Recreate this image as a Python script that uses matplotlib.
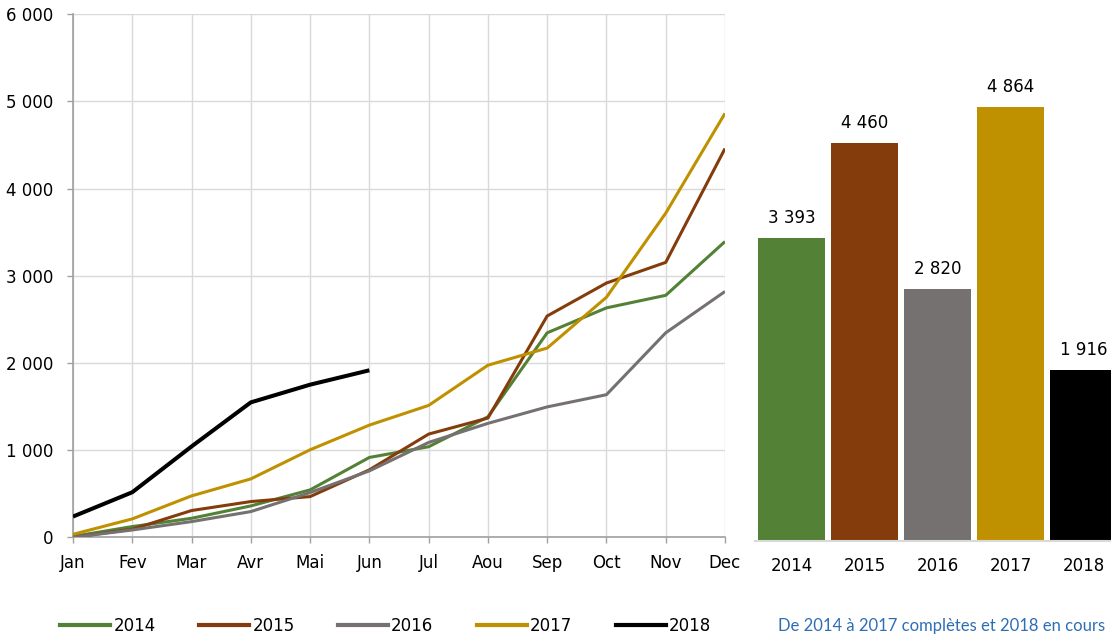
import matplotlib
matplotlib.use("Agg")
import matplotlib.pyplot as plt
from matplotlib.lines import Line2D

months = ["Jan", "Fev", "Mar", "Avr", "Mai", "Jun", "Jul", "Aou", "Sep", "Oct", "Nov", "Dec"]
years = ["2014", "2015", "2016", "2017", "2018"]
s2014 = [10, 123, 218, 360, 544, 916, 1039, 1382, 2346, 2632, 2776, 3393]
s2015 = [0, 92, 307, 410, 467, 774, 1184, 1368, 2539, 2917, 3154, 4460]
s2016 = [0, 84, 180, 295, 513, 762, 1088, 1307, 1496, 1636, 2346, 2820]
s2017 = [34, 211, 475, 670, 1004, 1287, 1513, 1974, 2171, 2754, 3719, 4864]
s2018 = [238, 517, 1042, 1548, 1751, 1916]
totals = [3393, 4460, 2820, 4864, 1916]

colors = ["#538135", "#843C0C", "#767171", "#BF9000", "#000000"]
series = [s2014, s2015, s2016, s2017, s2018]
widths = [2.2, 2.2, 2.2, 2.2, 2.9]

plt.rcParams['font.family'] = ['DejaVu Sans']
fig = plt.figure(figsize=(11.11, 6.38), dpi=100)

W, H = 1111, 638
ax = fig.add_axes([73 / W, (H - 537.3) / H, 652 / W, 523 / H])
for s, c, lw in zip(series, colors, widths):
    ax.plot(range(len(s)), s, color=c, lw=lw, solid_capstyle='butt', zorder=3)
ax.set_xlim(0, 11)
ax.set_ylim(0, 6000)
ax.set_xticks(range(12))
ax.set_xticklabels(months)
ax.set_yticks(range(0, 6001, 1000))
ax.set_yticklabels([f"{v:,}".replace(",", " ") for v in range(0, 6001, 1000)])
ax.grid(True, color="#D9D9D9", lw=1)
ax.set_axisbelow(True)
for sp in ["top", "right"]:
    ax.spines[sp].set_visible(False)
ax.spines["left"].set_color("#A0A0A0")
ax.spines["bottom"].set_color("#A0A0A0")
ax.spines["left"].set_linewidth(1.2)
ax.spines["bottom"].set_linewidth(1.2)
ax.tick_params(axis="both", colors="#A0A0A0", labelcolor="black", labelsize=12, length=4, width=1)
ax.tick_params(axis="y", pad=10)
ax.tick_params(axis="x", pad=8)

bx = fig.add_axes([755 / W, (H - 540.7) / H, 365 / W, 526.3 / H])
bars = bx.bar(range(5), totals, width=0.918, color=colors)
bx.set_xlim(-0.5, 4.5)
bx.set_ylim(0, 5900)
bx.set_xticks(range(5))
bx.set_xticklabels(years)
bx.set_yticks([])
for sp in ["top", "right", "left"]:
    bx.spines[sp].set_visible(False)
bx.spines["bottom"].set_color("#D9D9D9")
bx.spines["bottom"].set_linewidth(1.5)
bx.tick_params(axis="x", length=0, pad=12, labelsize=12)
bx.patch.set_alpha(0)
for i, v in enumerate(totals):
    bx.annotate(f"{v:,}".replace(",", " "), (i, v), xytext=(0, 8), textcoords="offset points",
                ha="center", va="bottom", fontsize=12)

handles = [Line2D([], [], color=c, lw=3) for c in colors]
fig.legend(handles, years, loc="center left", bbox_to_anchor=(60 / W, 1 - 626 / H),
           ncol=5, frameon=False, fontsize=12, handlelength=3.0, handletextpad=0.2,
           columnspacing=2.6, borderpad=0, borderaxespad=0)
fig.text(1105 / W, 1 - 626 / H, "De 2014 à 2017 complètes et 2018 en cours",
         ha="right", va="center", fontsize=12, family=["Lato", "DejaVu Sans"], color="#2E6EB5")

fig.savefig("out.png", dpi=100)
